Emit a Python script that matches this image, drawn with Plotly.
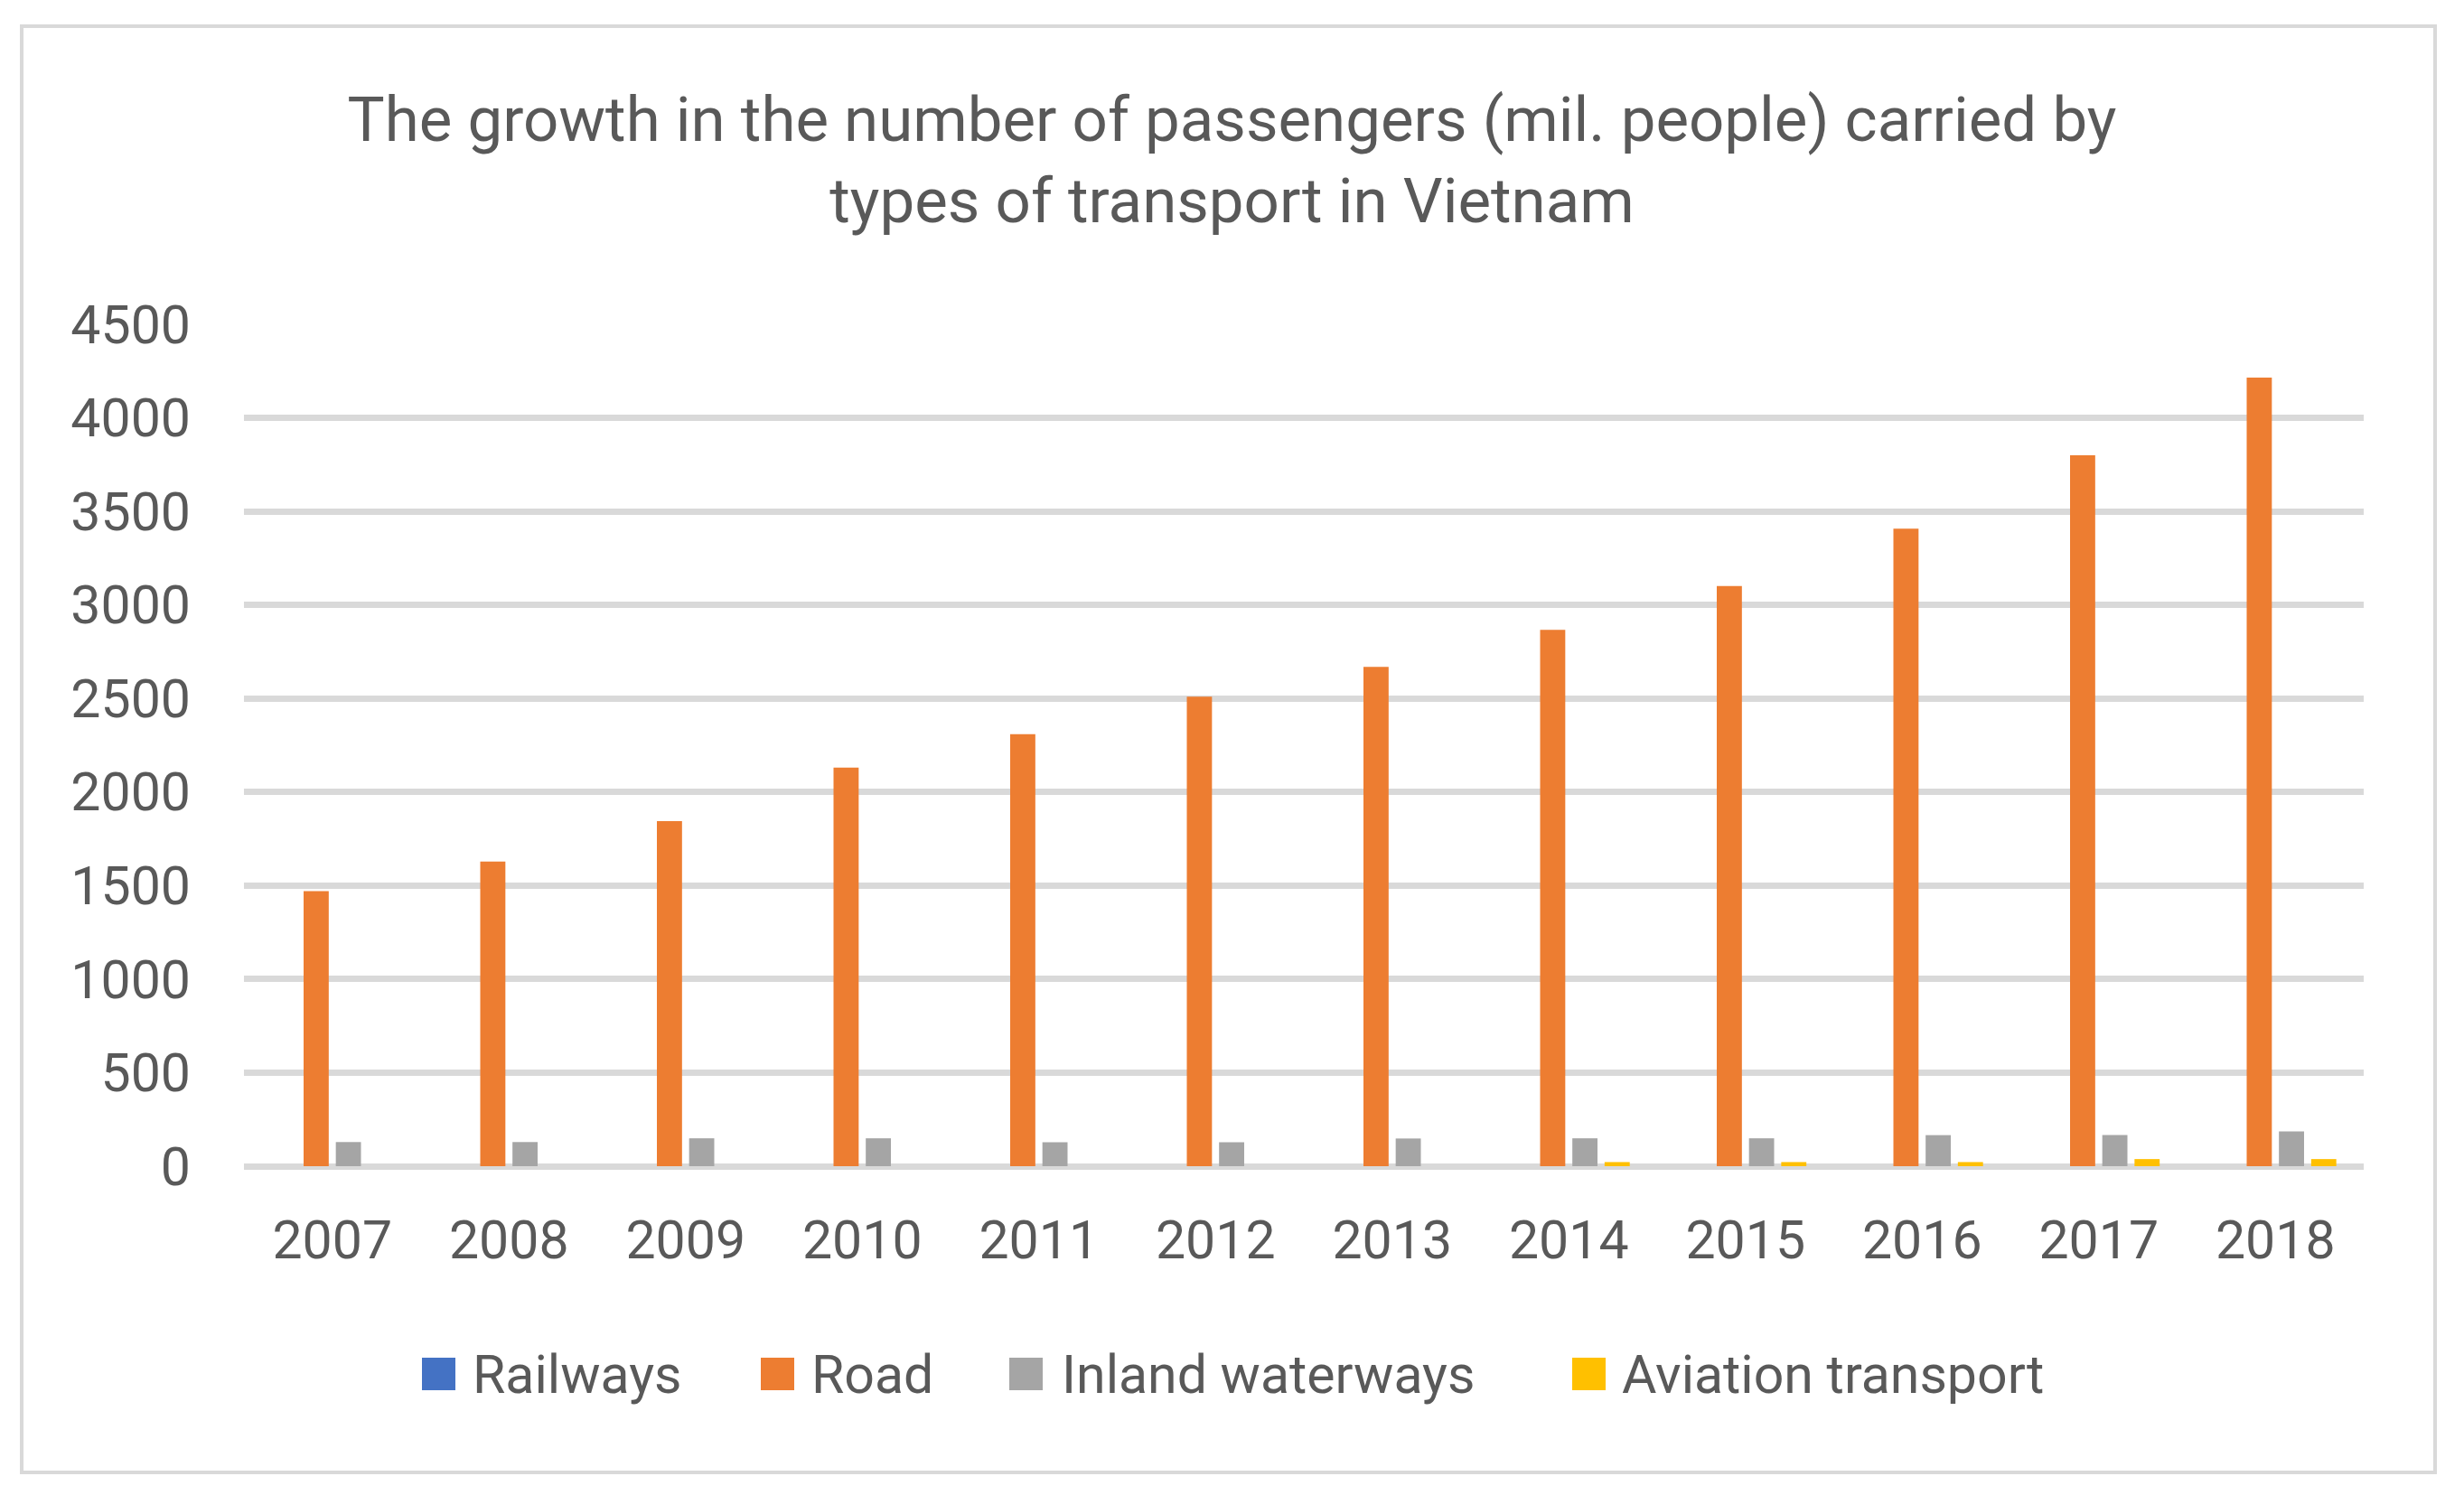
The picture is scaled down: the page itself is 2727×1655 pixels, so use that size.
import plotly.graph_objects as go

# data (mil. people)
years = ["2007", "2008", "2009", "2010", "2011", "2012",
         "2013", "2014", "2015", "2016", "2017", "2018"]
railways = [0, 0, 0, 0, 0, 0, 0, 0, 0, 0, 0, 0]
road = [1470, 1628, 1844, 2131, 2309, 2509, 2669, 2867, 3101, 3407, 3800, 4215]
inland_waterways = [129, 129, 149, 149, 128, 128, 148, 149, 149, 166, 166, 186]
aviation = [0, 0, 0, 0, 0, 0, 0, 22, 22, 22, 38, 38]

series_names = ["Railways", "Road", "Inland waterways", "Aviation transport"]
series_values = [railways, road, inland_waterways, aviation]
colors = ["#4472C4", "#ED7D31", "#A5A5A5", "#FFC000"]

FONT = "Roboto, 'Noto Sans', sans-serif"
TXT = "#595959"
GRID = "#D9D9D9"

# page geometry (reference pixels), body margin of the html page is 8px
OFF = 8
FW, FH = 2727 - 2 * OFF, 1655 - 2 * OFF
L, R, T, B = 270, 2616, 359, 1291


def px(x):
    return (x - L) / (R - L)


def py(y):
    return (B - y) / (B - T)


fig = go.Figure()
for name, vals, col in zip(series_names, series_values, colors):
    fig.add_trace(go.Bar(x=years, y=vals, name=name, marker_color=col,
                         marker_line_width=0, showlegend=False))

shapes = [dict(type="rect", xref="paper", yref="paper",
               x0=px(24), x1=px(2695), y0=py(1630), y1=py(29),
               line=dict(color=GRID, width=4), fillcolor="rgba(0,0,0,0)",
               layer="below")]
annotations = []

# legend drawn by hand so the swatches get the reference size
legend_pos = [(467, 521), (842, 896), (1117, 1173), (1740, 1793)]
for (sx, tx), name, col in zip(legend_pos, series_names, colors):
    shapes.append(dict(type="rect", xref="paper", yref="paper",
                       x0=px(sx), x1=px(sx + 37), y0=py(1539), y1=py(1503),
                       fillcolor=col, line=dict(width=0)))
    annotations.append(dict(text=name, xref="paper", yref="paper",
                            x=px(tx), y=py(1521), xanchor="left", yanchor="middle",
                            showarrow=False, font=dict(family=FONT, size=59, color=TXT)))

fig.update_layout(
    width=FW, height=FH,
    margin=dict(l=L - OFF, r=(OFF + FW) - R, t=T - OFF, b=(OFF + FH) - B, pad=0),
    paper_bgcolor="white", plot_bgcolor="white",
    title=dict(text="The growth in the number of passengers (mil. people) carried by<br>types of transport in Vietnam",
               x=0.5, xref="container", xanchor="center",
               y=1 - (156 - OFF) / FH, yref="container", yanchor="middle",
               font=dict(family=FONT, size=69, color=TXT)),
    barmode="group", bargap=0.27, bargroupgap=0.22,
    shapes=shapes, annotations=annotations,
    font=dict(family=FONT, color=TXT),
)

fig.update_xaxes(showgrid=False, showline=False, ticks="",
                 tickfont=dict(family=FONT, size=59, color=TXT),
                 ticklabelstandoff=42)
fig.update_yaxes(range=[0, 4500], dtick=500, showgrid=True, gridcolor=GRID, gridwidth=7,
                 zeroline=True, zerolinecolor=GRID, zerolinewidth=7,
                 showline=False, ticks="",
                 tickfont=dict(family=FONT, size=59, color=TXT),
                 ticklabelstandoff=58)

fig.write_html("out.html")
